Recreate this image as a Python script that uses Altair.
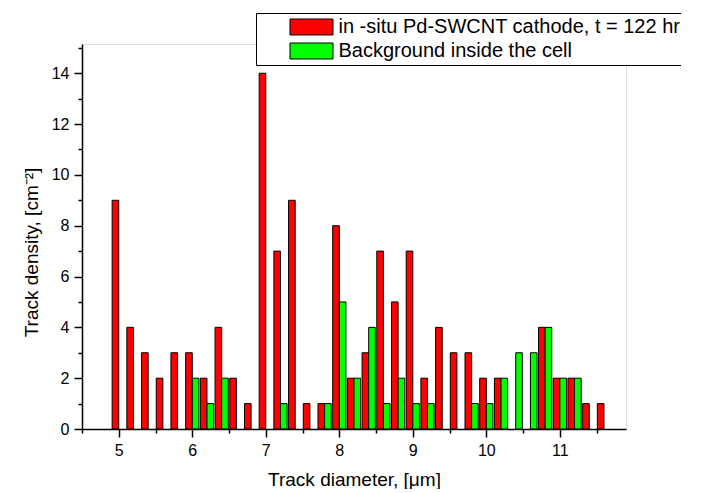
import altair as alt
import pandas as pd

# --- data -------------------------------------------------------------------
diameters = [5.0, 5.2, 5.4, 5.6, 5.8, 6.0, 6.2, 6.4, 6.6, 6.8,
             7.0, 7.2, 7.4, 7.6, 7.8, 8.0, 8.2, 8.4, 8.6, 8.8,
             9.0, 9.2, 9.4, 9.6, 9.8, 10.0, 10.2, 10.4, 10.6, 10.8,
             11.0, 11.2, 11.4, 11.6]
cathode = [9, 4, 3, 2, 3, 3, 2, 4, 2, 1,
           14, 7, 9, 1, 1, 8, 2, 3, 7, 5,
           7, 2, 4, 3, 3, 2, 2, 0, 0, 4,
           2, 2, 1, 1]
background = [0, 0, 0, 0, 0, 2, 1, 2, 0, 0,
              0, 1, 0, 0, 1, 5, 2, 4, 1, 2,
              1, 1, 0, 0, 1, 1, 2, 3, 3, 4,
              2, 2, 0, 0]
series_names = ["in -situ Pd-SWCNT cathode, t = 122 hr", "Background inside the cell"]
series_colors = ["#FF0000", "#00FF00"]

x_major = [5, 6, 7, 8, 9, 10, 11]
x_minor = [4.5, 5.5, 6.5, 7.5, 8.5, 9.5, 10.5, 11.5]
y_major = [0, 2, 4, 6, 8, 10, 12, 14]
y_minor = [1, 3, 5, 7, 9, 11, 13, 15]

BAR_W = 0.09
rows = []
for d, c, b in zip(diameters, cathode, background):
    if c > 0:
        rows.append({"series": series_names[0], "x0": round(d - BAR_W, 3), "x1": d, "value": c})
    if b > 0:
        rows.append({"series": series_names[1], "x0": d, "x1": round(d + BAR_W, 3), "value": b})
df = pd.DataFrame(rows)

FONT = "Liberation Sans"
x_scale = alt.Scale(domain=[4.5, 11.9], nice=False, zero=False)
y_scale = alt.Scale(domain=[0, 15.15], nice=False, zero=True)

bars = alt.Chart(df).mark_bar(stroke="black", strokeWidth=1, opacity=1).encode(
    x=alt.X("x0:Q", scale=x_scale,
            axis=alt.Axis(values=x_major, format="d", grid=False, tickSize=8, tickWidth=1.5,
                          domainWidth=1.5, domainColor="black", tickColor="black",
                          labelFont=FONT, labelFontSize=16, labelColor="black", labelPadding=5,
                          title="Track diameter, [\u03bcm]", titleFont=FONT, titleFontSize=19,
                          titleFontWeight="normal", titleColor="black",
                          titleX=272, titleY=56, titleBaseline="alphabetic", titleAlign="center")),
    x2="x1:Q",
    y=alt.Y("value:Q", scale=y_scale,
            axis=alt.Axis(values=y_major, format="d", grid=False, tickSize=8, tickWidth=1.5,
                          domainWidth=1.5, domainColor="black", tickColor="black",
                          labelFont=FONT, labelFontSize=16, labelColor="black", labelPadding=5,
                          title="Track density, [cm\u207b\u00b2]", titleFont=FONT, titleFontSize=19,
                          titleFontWeight="normal", titleColor="black",
                          titleX=-51, titleY=208, titleAngle=-90,
                          titleBaseline="middle", titleAlign="center")),
    y2=alt.datum(0),
    color=alt.Color("series:N",
                    scale=alt.Scale(domain=series_names, range=series_colors),
                    sort=series_names,
                    legend=alt.Legend(title=None, orient="none", legendX=174, legendY=-31,
                                      direction="vertical", padding=4,
                                      strokeColor="black", fillColor="white",
                                      symbolType="M-1,-0.372H1V0.372H-1Z", symbolSize=1849,
                                      symbolStrokeColor="black", symbolStrokeWidth=1,
                                      symbolOpacity=1,
                                      symbolOffset=29.5, labelOffset=5,
                                      clipHeight=20,
                                      labelFont=FONT, labelFontSize=20, labelColor="black",
                                      labelLimit=600, rowPadding=4)),
)

minor = alt.Chart(df).mark_point(opacity=0).encode(
    x=alt.X("x0:Q", scale=x_scale,
            axis=alt.Axis(orient="bottom", values=x_minor, labels=False, domain=False, grid=False,
                          tickSize=4, tickWidth=1.5, tickColor="black", title=None)),
    y=alt.Y("value:Q", scale=y_scale,
            axis=alt.Axis(orient="left", values=y_minor, labels=False, domain=False, grid=False,
                          tickSize=4, tickWidth=1.5, tickColor="black", title=None)),
)

chart = alt.layer(bars, minor).resolve_axis(x="independent", y="independent").properties(
    width=544, height=385,
    autosize=alt.AutoSizeParams(type="none"),
    padding={"left": 74, "top": 36, "right": 55, "bottom": 60},
).configure_view(stroke=None).configure(font=FONT)

chart.save("out.html", embed_options={"renderer": "svg", "actions": False})
